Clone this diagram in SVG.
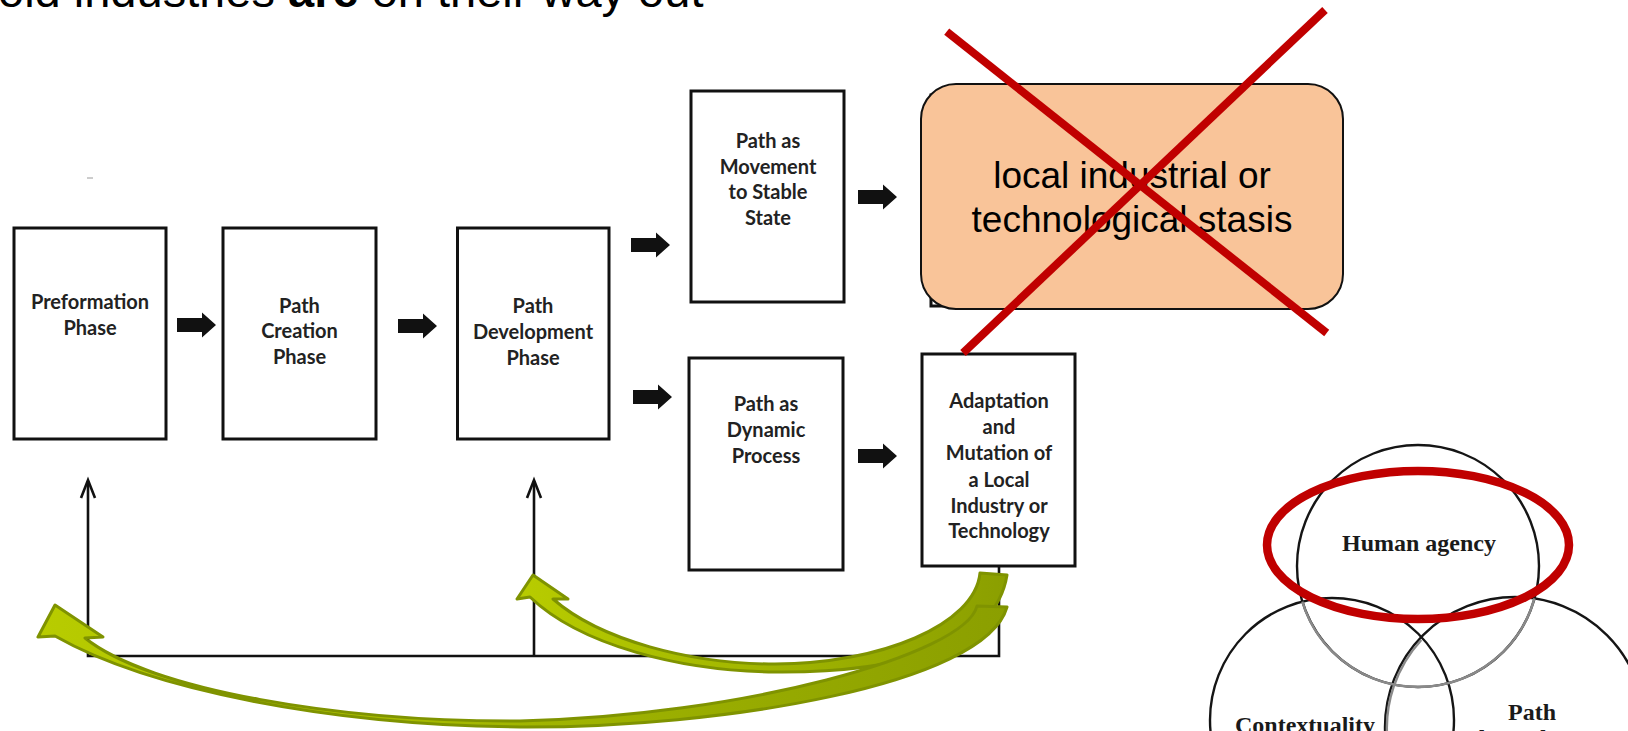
<svg xmlns="http://www.w3.org/2000/svg" width="1628" height="731" viewBox="0 0 1628 731">
  <style>
    .box { fill: #ffffff; stroke: #111111; stroke-width: 3; }
    .lbl { font-family: Lato, "Open Sans", "DejaVu Sans", sans-serif; font-weight: bold; font-size: 20px; fill: #222222; text-anchor: middle; }
    .blk { fill: #111111; }
    .fb { fill: none; stroke: #111111; stroke-width: 2.6; }
    .curl { stroke: #7f9300; stroke-width: 3; stroke-linejoin: round; }
    .cross { stroke: #c00000; stroke-width: 8; fill: none; }
    .venn { fill: none; stroke: #151515; stroke-width: 2.4; }
    .venn-soft { fill: none; stroke: #8a8a8a; stroke-width: 2.4; }
    .vtxt { font-family: "Liberation Serif", "Times New Roman", serif; font-weight: bold; font-size: 24px; fill: #1a1a1a; text-anchor: middle; }
  </style>
  <defs>
    <path id="blockArrow" d="M0,-7 H25 V-12.5 L39,0 L25,12.5 V7 H0 Z"/>
    <linearGradient id="olive" x1="0" y1="0" x2="1" y2="0">
      <stop offset="0" stop-color="#b8cc00"/>
      <stop offset="1" stop-color="#8b9f00"/>
    </linearGradient>
  </defs>

  <rect width="1628" height="731" fill="#ffffff"/>

  <!-- heading, only its lower part falls inside the canvas -->
  <text x="-2" y="7" font-family="'Liberation Sans', Arial, sans-serif" font-size="47" fill="#000000">old industries <tspan font-weight="bold">are</tspan> on their way out</text>

  <!-- stray speck above the first phase -->
  <line x1="87" y1="178" x2="93" y2="178" stroke="#9a9a9a" stroke-width="1"/>

  <!-- phase boxes -->
  <g id="preformation">
    <rect class="box" x="14" y="228" width="152" height="211"/>
    <text class="lbl" x="90" y="309">Preformation</text>
    <text class="lbl" x="90" y="335">Phase</text>
  </g>
  <g id="path-creation">
    <rect class="box" x="223" y="228" width="153" height="211"/>
    <text class="lbl" x="299.5" y="313">Path</text>
    <text class="lbl" x="299.5" y="338">Creation</text>
    <text class="lbl" x="299.5" y="364">Phase</text>
  </g>
  <g id="path-development">
    <rect class="box" x="457.5" y="228" width="151.5" height="211"/>
    <text class="lbl" x="533" y="313">Path</text>
    <text class="lbl" x="533" y="339">Development</text>
    <text class="lbl" x="533" y="365">Phase</text>
  </g>
  <g id="stable-state">
    <rect class="box" x="691" y="91" width="153" height="211"/>
    <text class="lbl" x="768" y="148">Path as</text>
    <text class="lbl" x="768" y="174">Movement</text>
    <text class="lbl" x="768" y="199">to Stable</text>
    <text class="lbl" x="768" y="225">State</text>
  </g>
  <g id="dynamic-process">
    <rect class="box" x="689" y="358" width="154" height="212"/>
    <text class="lbl" x="766" y="411">Path as</text>
    <text class="lbl" x="766" y="437">Dynamic</text>
    <text class="lbl" x="766" y="463">Process</text>
  </g>
  <g id="adaptation">
    <rect class="box" x="922" y="354" width="153" height="212"/>
    <text class="lbl" x="999" y="408">Adaptation</text>
    <text class="lbl" x="999" y="434">and</text>
    <text class="lbl" x="999" y="460">Mutation of</text>
    <text class="lbl" x="999" y="486.5">a Local</text>
    <text class="lbl" x="999" y="512.5">Industry or</text>
    <text class="lbl" x="999" y="538">Technology</text>
  </g>

  <!-- stasis outcome: original box with the callout laid over it -->
  <g id="stasis">
    <rect class="box" x="931" y="95" width="153" height="211"/>
    <rect x="921" y="84" width="422" height="225" rx="35" ry="35" fill="#f9c499" stroke="#111111" stroke-width="2"/>
    <text x="1132" y="188" font-family="'Liberation Sans', Arial, sans-serif" font-size="37" fill="#000000" text-anchor="middle">local industrial or</text>
    <text x="1132" y="232" font-family="'Liberation Sans', Arial, sans-serif" font-size="37" fill="#000000" text-anchor="middle">technological stasis</text>
  </g>

  <!-- connectors -->
  <g id="connectors">
    <use href="#blockArrow" class="blk" x="177" y="325"/>
    <use href="#blockArrow" class="blk" x="398" y="326"/>
    <use href="#blockArrow" class="blk" x="631" y="245"/>
    <use href="#blockArrow" class="blk" x="633" y="397"/>
    <use href="#blockArrow" class="blk" x="858" y="197"/>
    <use href="#blockArrow" class="blk" x="858" y="456"/>

    <!-- feedback loop under the boxes -->
    <path class="fb" d="M999,566 V656 H88 V481"/>
    <path class="fb" d="M534,656 V481"/>
    <path class="fb" d="M81,498 L88,480 L95,498"/>
    <path class="fb" d="M527,498 L534,480 L541,498"/>

    <!-- curved feedback arrows -->
    <path id="curl-short" class="curl" fill="url(#olive)" d="M530,597 C580,645 680,671 775,672 C890,673 995,650 1007,575 L980,573 C975,625 880,664 775,664 C690,664 600,640 553,599 L568,599 L533,575 L517,599 Z"/>
    <path id="curl-long" class="curl" fill="url(#olive)" d="M55,636 C150,690 330,725 520,727 C720,728 985,685 1007,607 L977,606 C965,655 740,716 520,721 C340,722 150,690 85,638 L103,637 L55,605 L38,637 Z"/>
  </g>

  <!-- red strike-through -->
  <g id="strike">
    <line class="cross" x1="946.7" y1="31.7" x2="1326.7" y2="333"/>
    <line class="cross" x1="1325" y1="10" x2="963" y2="353"/>
  </g>

  <!-- three-factor Venn diagram -->
  <g id="venn">
    <circle class="venn" cx="1418" cy="566" r="121"/>
    <circle class="venn" cx="1332" cy="720" r="122"/>
    <circle class="venn" cx="1515" cy="727" r="130"/>
    <path class="venn-soft" d="M1302.3,601.6 A121,121 0 0 0 1534.5,598.4"/>
    <path class="venn-soft" d="M1421.3,640 A130,130 0 0 0 1450,839.6"/>
    <text class="vtxt" x="1419" y="551">Human agency</text>
    <text class="vtxt" x="1305" y="733">Contextuality</text>
    <text class="vtxt" x="1532" y="720">Path</text>
    <text class="vtxt" x="1532" y="746">dependence</text>
  </g>
  <g id="highlight">
    <ellipse cx="1418" cy="545" rx="151" ry="74" fill="none" stroke="#c00000" stroke-width="8.5"/>
  </g>
</svg>
